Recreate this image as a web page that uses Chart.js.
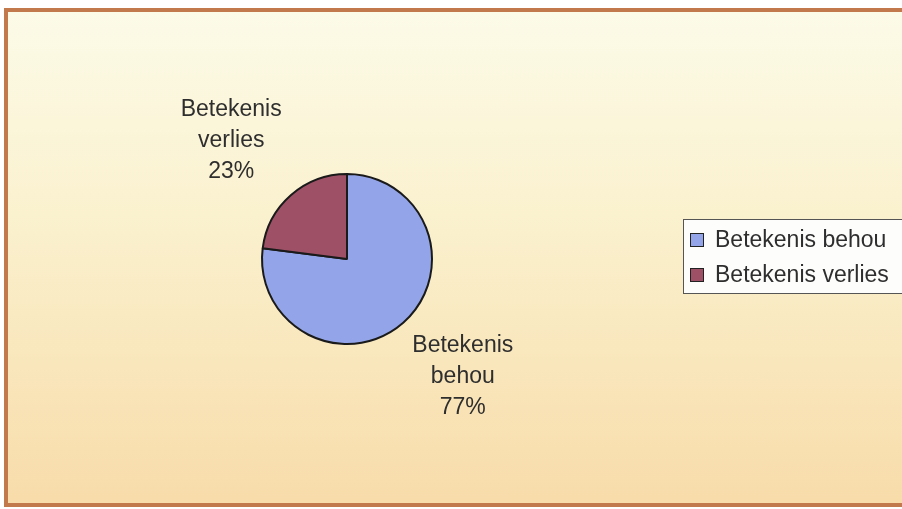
<!DOCTYPE html>
<html>
<head>
<title>Betekenis</title>
<style>
    body { margin: 0; background: #ffffff; }
    #frame {
        position: absolute;
        left: 4px; top: 8px;
        width: 910px; height: 491px;
        border: 4px solid #c27a4c;
        background: linear-gradient(to bottom, #fcfbe8 0%, #faf0cc 45%, #f8dcaa 100%);
    }
    #chartBox { position: absolute; left: 0; top: 0; width: 902px; height: 509px; }
</style>
<script src="https://cdn.jsdelivr.net/npm/chart.js"></script>
</head>
<body>
<div id="frame"></div>
<div id="chartBox"><canvas id="pieChart"></canvas></div>

<script>
    const labels = ["Betekenis behou", "Betekenis verlies"];
    const values = [77, 23];
    const colors = ["#93a5e8", "#9d5066"];

    const font = "23px 'Liberation Sans', Arial, sans-serif";
    const textColor = "#2e2e2e";

    // labels next to slices: name split into words, then percentage
    const sliceLabels = {
        id: "sliceLabels",
        afterDatasetsDraw(chart) {
            const ctx = chart.ctx;
            const meta = chart.getDatasetMeta(0);
            const total = values.reduce((a, b) => a + b, 0);
            ctx.save();
            ctx.font = font;
            ctx.fillStyle = textColor;
            ctx.textAlign = "center";
            ctx.textBaseline = "middle";
            meta.data.forEach((arc, i) => {
                const mid = (arc.startAngle + arc.endAngle) / 2;
                const x = arc.x + Math.cos(mid) * arc.outerRadius * 2.06;
                const y = arc.y + Math.sin(mid) * arc.outerRadius * 1.85;
                const lines = labels[i].split(" ");
                lines.push(Math.round(values[i] / total * 100) + "%");
                lines.forEach((t, k) => {
                    ctx.fillText(t, x, y + (k - 1) * 31);
                });
            });
            ctx.restore();
        }
    };

    // boxed legend on the right
    const boxLegend = {
        id: "boxLegend",
        afterDraw(chart) {
            const ctx = chart.ctx;
            const bx = 683, by = 219, bw = 230, bh = 74;
            ctx.save();
            ctx.fillStyle = "#fdfdfb";
            ctx.fillRect(bx, by, bw, bh);
            ctx.strokeStyle = "#555555";
            ctx.lineWidth = 1;
            ctx.strokeRect(bx + 0.5, by + 0.5, bw, bh);
            ctx.font = font;
            ctx.textBaseline = "middle";
            labels.forEach((t, i) => {
                const cy = by + 21 + i * 35;
                ctx.fillStyle = colors[i];
                ctx.fillRect(690, cy - 7, 14, 14);
                ctx.strokeStyle = "#222222";
                ctx.strokeRect(690.5, cy - 6.5, 13, 13);
                ctx.fillStyle = textColor;
                ctx.fillText(t, 715, cy + 1);
            });
            ctx.restore();
        }
    };

    const ctx = document.getElementById("pieChart").getContext("2d");
    const chart = new Chart(ctx, {
        type: "pie",
        data: {
            labels: labels,
            datasets: [{
                data: values,
                backgroundColor: colors,
                borderColor: "#1a1a1a",
                borderWidth: 2
            }]
        },
        options: {
            responsive: true,
            maintainAspectRatio: false,
            animation: false,
            layout: { padding: { left: 261, right: 469, top: 173, bottom: 164 } },
            plugins: {
                legend: { display: false },
                tooltip: { enabled: false }
            }
        },
        plugins: [sliceLabels, boxLegend]
    });
</script>
</body>
</html>
